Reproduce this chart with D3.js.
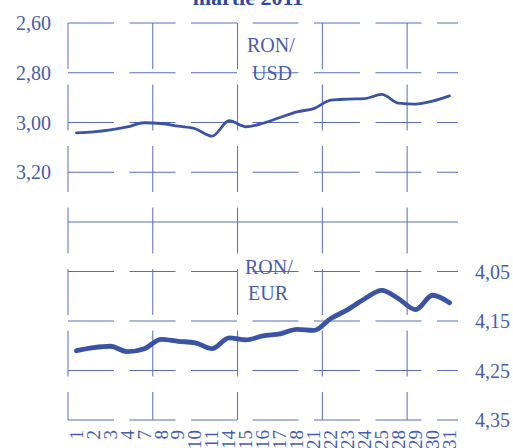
<!DOCTYPE html>
<html>
<head>
<meta charset="utf-8">
<script src="https://cdn.jsdelivr.net/npm/d3@7"></script>
<style>
  body { margin: 0; background: #fff; }
  svg { display: block; font-family: "Liberation Serif", "Times New Roman", serif; }
</style>
</head>
<body>
<div class="vis-chart"></div>
<script>
// zile lucratoare, martie 2011
var days = ["1","2","3","4","7","8","9","10","11","14","15","16","17","18","21","22","23","24","25","28","29","30","31"];

var usd = [3.042, 3.038, 3.030, 3.018, 3.001, 3.004, 3.015, 3.025, 3.055, 2.993, 3.017, 3.003,
           2.980, 2.957, 2.944, 2.910, 2.906, 2.904, 2.887, 2.922, 2.926, 2.914, 2.893];

var eur = [4.210, 4.204, 4.201, 4.212, 4.206, 4.187, 4.191, 4.194, 4.206, 4.184, 4.188, 4.180,
           4.176, 4.167, 4.169, 4.145, 4.127, 4.105, 4.088, 4.105, 4.127, 4.098, 4.113];

var usdTicks = [2.60, 2.80, 3.00, 3.20];
var eurTicks = [4.05, 4.15, 4.25, 4.35];
var vTicks = [0, 5, 10, 15, 20];   // index of day where a vertical gridline sits

var width = 513, height = 448;
var margin = {top: 23, right: 55, bottom: 28, left: 68};
var blue = "#3b53a5", grid = "#5a6cb8", txt = "#4a5dab";

var svg = d3.select(".vis-chart").append("svg")
    .attr("width", width)
    .attr("height", height);

var x = d3.scaleBand()
    .domain(days)
    .range([margin.left, width - margin.right]);

var mid = 222;
// upper panel RON/USD, lower panel RON/EUR, both inverted
var yU = d3.scaleLinear().domain([2.60, 3.40]).range([margin.top, mid]);
var yE = d3.scaleLinear().domain([3.95, 4.35]).range([mid, height - margin.bottom]);

var fmt = function(v) { return d3.format(".2f")(v).replace(".", ","); };
var dash = "46,15.5";

// horizontal gridlines
var gh = svg.append("g").attr("stroke", grid).attr("stroke-width", 1);
gh.selectAll(".hu").data(usdTicks).enter().append("line")
    .attr("x1", x.range()[0]).attr("x2", x.range()[1])
    .attr("y1", function(d) { return yU(d); }).attr("y2", function(d) { return yU(d); })
    .attr("stroke-dasharray", dash);
gh.selectAll(".he").data(eurTicks).enter().append("line")
    .attr("x1", x.range()[0]).attr("x2", x.range()[1])
    .attr("y1", function(d) { return yE(d); }).attr("y2", function(d) { return yE(d); })
    .attr("stroke-dasharray", dash);
gh.append("line")
    .attr("x1", x.range()[0]).attr("x2", x.range()[1])
    .attr("y1", yE(3.95)).attr("y2", yE(3.95));

// vertical gridlines
gh.selectAll(".v").data(vTicks).enter().append("line")
    .attr("x1", function(d) { return x.range()[0] + d * x.step(); })
    .attr("x2", function(d) { return x.range()[0] + d * x.step(); })
    .attr("y1", yU(2.60)).attr("y2", yE(4.35))
    .attr("stroke-dasharray", dash);

// y labels
svg.append("g").selectAll("text").data(usdTicks).enter().append("text")
    .attr("x", 51).attr("y", function(d) { return yU(d); })
    .attr("dy", "0.35em").attr("text-anchor", "end")
    .attr("font-size", 20).attr("fill", txt)
    .text(fmt);
svg.append("g").selectAll("text").data(eurTicks).enter().append("text")
    .attr("x", 475).attr("y", function(d) { return yE(d); })
    .attr("dy", "0.35em").attr("text-anchor", "start")
    .attr("font-size", 20).attr("fill", txt)
    .text(fmt);

// x labels, rotated
svg.append("g").selectAll("text").data(days).enter().append("text")
    .attr("transform", function(d) { return "translate(" + (x(d) + x.bandwidth() / 2) + ",430) rotate(-90)"; })
    .attr("dy", "0.33em").attr("text-anchor", "end")
    .attr("font-size", 19).attr("fill", txt)
    .text(function(d) { return d; });

// lines
var lineU = d3.line()
    .x(function(d, i) { return x(days[i]) + x.bandwidth() / 2; })
    .y(function(d) { return yU(d); })
    .curve(d3.curveMonotoneX);
var lineE = d3.line()
    .x(function(d, i) { return x(days[i]) + x.bandwidth() / 2; })
    .y(function(d) { return yE(d); })
    .curve(d3.curveMonotoneX);

svg.append("path").datum(usd)
    .attr("d", lineU).attr("fill", "none")
    .attr("stroke", blue).attr("stroke-width", 2.8).attr("stroke-linecap", "round");
svg.append("path").datum(eur)
    .attr("d", lineE).attr("fill", "none")
    .attr("stroke", blue).attr("stroke-width", 4.8).attr("stroke-linecap", "round");

// series names
var names = [
  {t: "RON/", x: 247, y: 52}, {t: "USD", x: 252, y: 80},
  {t: "RON/", x: 245, y: 274}, {t: "EUR", x: 248, y: 300}
];
svg.append("g").selectAll("text").data(names).enter().append("text")
    .attr("x", function(d) { return d.x; }).attr("y", function(d) { return d.y; })
    .attr("font-size", 20).attr("fill", txt)
    .text(function(d) { return d.t; });

// title, cut at the top like the original
svg.append("text")
    .attr("x", 248).attr("y", 5)
    .attr("text-anchor", "middle")
    .attr("font-size", 22).attr("font-weight", "bold").attr("fill", "#2f4a9f")
    .text("martie 2011");
</script>
</body>
</html>
